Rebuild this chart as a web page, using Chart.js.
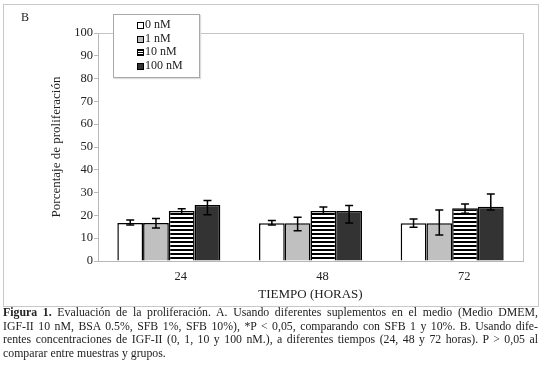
<!DOCTYPE html>
<html>
<head>
<meta charset="utf-8">
<script src="https://cdn.jsdelivr.net/npm/chart.js@4"></script>
<style>
  body { margin: 0; background: #fff; width: 542px; height: 370px; position: relative; overflow: hidden; font-family: "Liberation Serif", serif; color: #222; }
  #box { position: absolute; left: 3px; top: 4px; width: 534px; height: 301px; border: 1px solid #c8c8c8; }
  #box canvas { position: absolute; left: 0; top: 0; }
  #panel { position: absolute; left: 17px; top: 5px; font-size: 12px; }
  #legend { position: absolute; left: 109px; top: 9px; width: 85px; height: 62px; background: #fff; border: 1px solid #a8a8a8; box-shadow: 1px 1px 1px #ddd; font-size: 12px; }
  .item { position: absolute; left: 23px; height: 13px; line-height: 13px; white-space: nowrap; }
  .sw { display: inline-block; width: 5px; height: 5px; border: 1.5px solid #000; vertical-align: -1px; margin-right: 1px; }
  #caption { position: absolute; left: 3px; top: 306px; width: 535px; font-size: 11.8px; line-height: 13.6px; color: #222; }
  .ln { text-align: justify; text-align-last: justify; white-space: nowrap; }
  .ln.last { text-align-last: left; }
</style>
</head>
<body>
<div id="box">
  <canvas id="chart" width="534" height="301"></canvas>
  <div id="panel">B</div>
  <div id="legend"></div>
</div>
<div id="caption">
  <div class="ln"><b>Figura 1.</b> Evaluación de la proliferación. A. Usando diferentes suplementos en el medio (Medio DMEM,</div>
  <div class="ln">IGF-II 10 nM, BSA 0.5%, SFB 1%, SFB 10%), *P &lt; 0,05, comparando con SFB 1 y 10%. B. Usando dife-</div>
  <div class="ln">rentes concentraciones de IGF-II (0, 1, 10 y 100 nM.), a diferentes tiempos (24, 48 y 72 horas). P &gt; 0,05 al</div>
  <div class="ln last">comparar entre muestras y grupos.</div>
</div>
<script>
const categories = ['24', '48', '72'];
const seriesNames = ['0 nM', '1 nM', '10 nM', '100 nM'];

const nM0 = [16.7, 16.6, 16.6];
const nM1 = [16.7, 16.6, 16.6];
const nM10 = [21.9, 21.9, 23.1];
const nM100 = [24.6, 21.9, 23.8];

// error bar ends, above and below the bar value
const errUp = [[1.3, 1.2, 1.8], [1.9, 2.6, 5.8], [1.0, 1.8, 1.9], [1.9, 2.4, 5.6]];
const errDown = [[0.9, 0.8, 1.8], [2.2, 3.3, 5.2], [1.3, 1.3, 2.2], [4.3, 5.2, 1.4]];

const yTicks = [0, 10, 20, 30, 40, 50, 60, 70, 80, 90, 100];

function stripes() {
    let c = document.createElement('canvas');
    c.width = 4; c.height = 4;
    let g = c.getContext('2d');
    g.fillStyle = '#fff';
    g.fillRect(0, 0, 4, 4);
    g.fillStyle = '#000';
    g.fillRect(0, 0, 4, 2);
    return document.getElementById('chart').getContext('2d').createPattern(c, 'repeat');
}

const fills = ['#ffffff', '#c0c0c0', stripes(), '#333333'];
const swatchCss = ['#fff', '#c0c0c0', 'repeating-linear-gradient(#000 0 1px, #fff 1px 2px)', '#333'];

const allValues = [nM0, nM1, nM10, nM100];
let datasets = allValues.map((vals, i) => ({
    label: seriesNames[i],
    data: vals,
    backgroundColor: fills[i],
    borderColor: '#000',
    borderWidth: 1.5,
    categoryPercentage: 0.727,
    barPercentage: 1
}));

const errorBars = {
    id: 'errorBars',
    afterDatasetsDraw(chart) {
        const ctx = chart.ctx;
        const y = chart.scales.y;
        ctx.save();
        ctx.strokeStyle = '#000';
        ctx.lineWidth = 1.5;
        chart.data.datasets.forEach((ds, i) => {
            chart.getDatasetMeta(i).data.forEach((bar, j) => {
                let v = ds.data[j];
                let top = y.getPixelForValue(v + errUp[i][j]);
                let bot = y.getPixelForValue(v - errDown[i][j]);
                ctx.beginPath();
                ctx.moveTo(bar.x, top); ctx.lineTo(bar.x, bot);
                ctx.moveTo(bar.x - 4, top); ctx.lineTo(bar.x + 4, top);
                ctx.moveTo(bar.x - 4, bot); ctx.lineTo(bar.x + 4, bot);
                ctx.stroke();
            });
        });
        ctx.restore();
    }
};

const plotFrame = {
    id: 'plotFrame',
    beforeDatasetsDraw(chart) {
        const a = chart.chartArea;
        const ctx = chart.ctx;
        ctx.save();
        ctx.strokeStyle = '#c4c4c4';
        ctx.lineWidth = 1;
        ctx.beginPath();
        ctx.moveTo(a.left, a.top + 0.5);
        ctx.lineTo(a.right + 0.5, a.top + 0.5);
        ctx.lineTo(a.right + 0.5, a.bottom);
        ctx.stroke();
        ctx.restore();
    }
};

const chart = new Chart(document.getElementById('chart'), {
    type: 'bar',
    data: { labels: categories, datasets },
    options: {
        responsive: false,
        animation: false,
        layout: { padding: { left: 41, top: 28, right: 15, bottom: 0 } },
        plugins: { legend: { display: false }, tooltip: { enabled: false } },
        scales: {
            x: {
                afterFit: s => { s.height = 45; },
                grid: { display: false, drawTicks: false },
                border: { display: true, color: '#b8b8b8', width: 1 },
                ticks: { color: '#222', font: { family: 'Liberation Serif', size: 12.5 }, padding: 8, labelOffset: 12, maxRotation: 0 },
                title: { display: true, text: 'TIEMPO (HORAS)', color: '#222', font: { family: 'Liberation Serif', size: 13 } }
            },
            y: {
                min: 0,
                max: 100,
                afterFit: s => { s.width = 53; },
                afterBuildTicks: s => { s.ticks = yTicks.map(v => ({ value: v })); },
                grid: { drawOnChartArea: false, drawTicks: true, tickLength: 4, tickColor: '#b8b8b8' },
                border: { display: true, color: '#b8b8b8', width: 1 },
                ticks: { color: '#222', font: { family: 'Liberation Serif', size: 12.5 }, padding: 1 },
                title: { display: true, text: 'Porcentaje de proliferación', color: '#222', font: { family: 'Liberation Serif', size: 13 } }
            }
        }
    },
    plugins: [plotFrame, errorBars]
});

// legend built from the datasets
const legend = document.getElementById('legend');
chart.data.datasets.forEach((ds, i) => {
    let item = document.createElement('div');
    item.className = 'item';
    item.style.top = (3 + i * 13.6) + 'px';
    let sw = document.createElement('span');
    sw.className = 'sw';
    sw.style.background = swatchCss[i];
    item.appendChild(sw);
    item.appendChild(document.createTextNode(ds.label));
    legend.appendChild(item);
});
</script>
</body>
</html>
